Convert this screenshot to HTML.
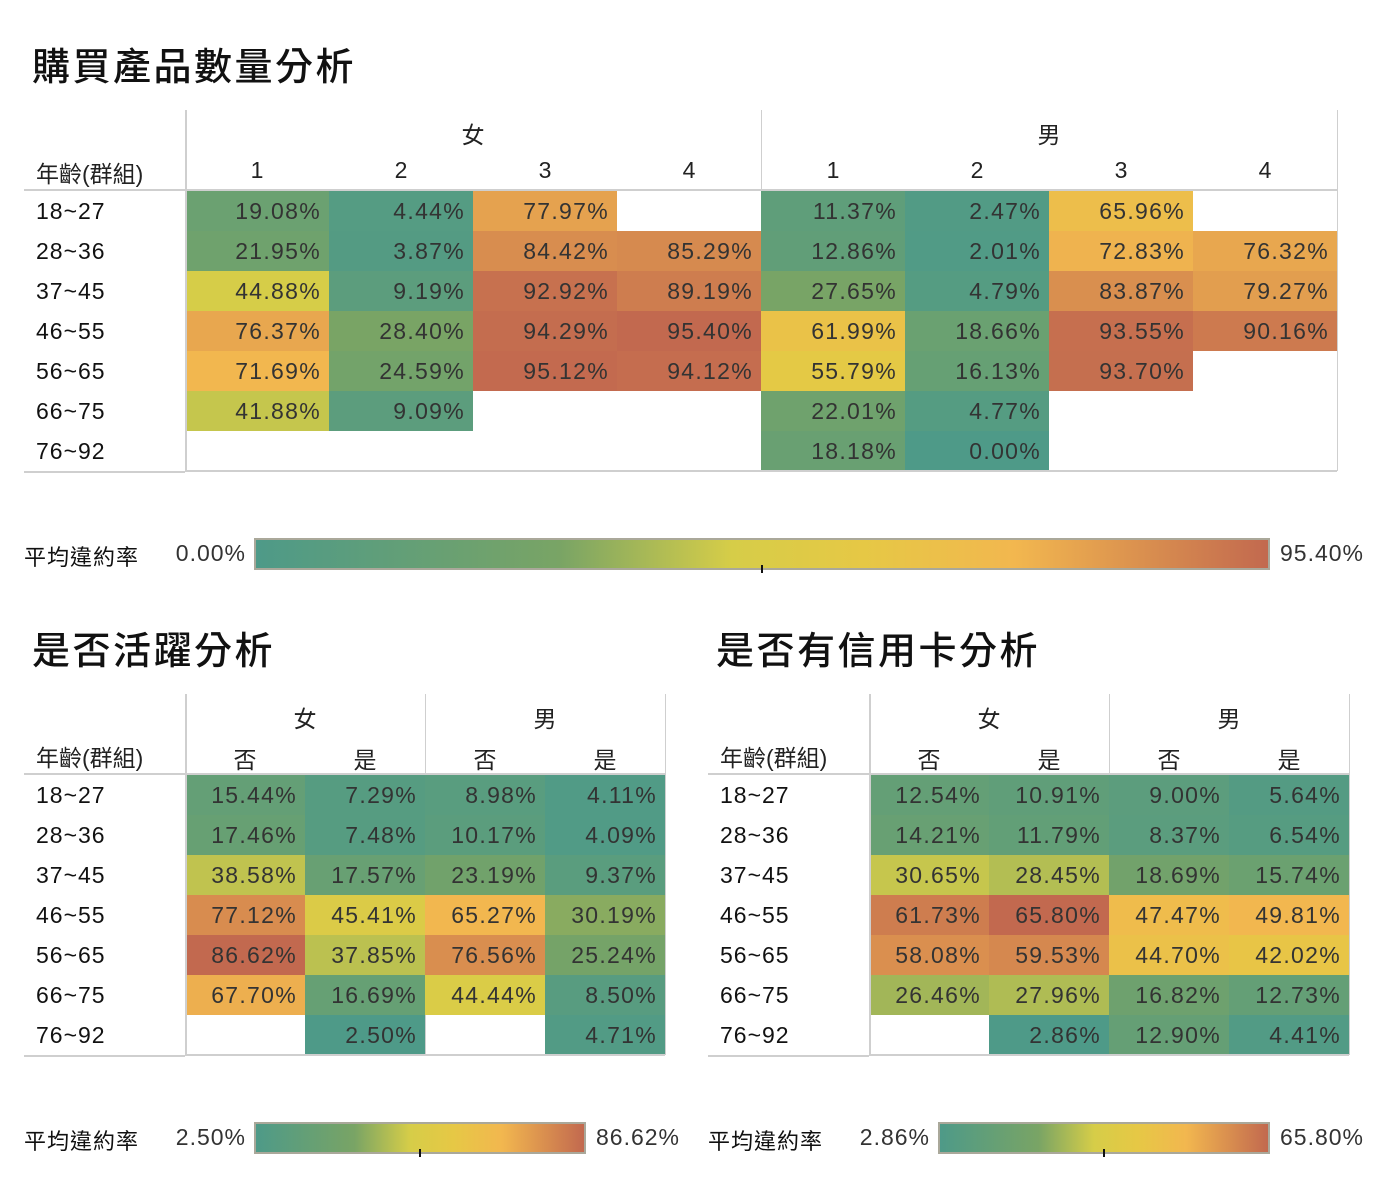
<!DOCTYPE html>
<html><head><meta charset="utf-8">
<style>
body{margin:0;background:#fff;font-family:"Liberation Sans","Noto Sans CJK TC",sans-serif;color:#222;}
#root{position:relative;width:1400px;height:1200px;overflow:hidden;}
.t{position:absolute;white-space:nowrap;}
.title{font-size:38px;font-weight:500;color:#111;letter-spacing:2.5px;}
.cell{position:absolute;font-size:23px;letter-spacing:1.3px;color:#333;text-align:right;box-sizing:border-box;padding-right:8px;line-height:40px;}
.hd{position:absolute;font-size:23px;color:#222;text-align:center;}
.rl{position:absolute;font-size:23px;letter-spacing:1px;color:#111;line-height:40px;}
.ln{position:absolute;background:#cfcfcf;}
</style></head><body>
<div id="root"></div>
<script>
// ---- data ----
const ages=["18~27","28~36","37~45","46~55","56~65","66~75","76~92"];
const qtyCats=["1","2","3","4"];
const qtyFemale=[[19.08,4.44,77.97,null],[21.95,3.87,84.42,85.29],[44.88,9.19,92.92,89.19],[76.37,28.40,94.29,95.40],[71.69,24.59,95.12,94.12],[41.88,9.09,null,null],[null,null,null,null]];
const qtyMale=[[11.37,2.47,65.96,null],[12.86,2.01,72.83,76.32],[27.65,4.79,83.87,79.27],[61.99,18.66,93.55,90.16],[55.79,16.13,93.70,null],[22.01,4.77,null,null],[18.18,0.00,null,null]];
const ynCats=["否","是"];
const activeFemale=[[15.44,7.29],[17.46,7.48],[38.58,17.57],[77.12,45.41],[86.62,37.85],[67.70,16.69],[null,2.50]];
const activeMale=[[8.98,4.11],[10.17,4.09],[23.19,9.37],[65.27,30.19],[76.56,25.24],[44.44,8.50],[null,4.71]];
const cardFemale=[[12.54,10.91],[14.21,11.79],[30.65,28.45],[61.73,65.80],[58.08,59.53],[26.46,27.96],[null,2.86]];
const cardMale=[[9.00,5.64],[8.37,6.54],[18.69,15.74],[47.47,49.81],[44.70,42.02],[16.82,12.73],[12.90,4.41]];

const stops=[[0,[78,154,136]],[0.3,[121,164,101]],[0.47,[214,205,72]],[0.6,[230,200,69]],[0.75,[242,183,79]],[1,[194,105,79]]];
function color(t){t=Math.max(0,Math.min(1,t));for(let i=1;i<stops.length;i++){if(t<=stops[i][0]){const a=stops[i-1],b=stops[i];const f=(t-a[0])/(b[0]-a[0]);const c=a[1].map((v,k)=>Math.round(v+(b[1][k]-v)*f));return `rgb(${c})`;}}return 'rgb('+stops[5][1]+')';}
const root=document.getElementById('root');
function add(cls,x,y,w,h,txt,name,extra){const d=document.createElement('div');d.className=cls;d.style.left=x+'px';d.style.top=y+'px';if(w!=null)d.style.width=w+'px';if(h!=null)d.style.height=h+'px';if(txt!=null)d.textContent=txt;


if(extra)Object.assign(d.style,extra);root.appendChild(d);return d;}
const grad='linear-gradient(to right,'+stops.map(s=>'rgb('+s[1]+') '+(s[0]*100)+'%').join(',')+')';

function table(x0,xh,colW,cats,groups,title,tx,ly,lx,bx,bw,prefix){
  add('t title',tx,36+ly,null,null,title,prefix+'-title');
  const all=[];groups.forEach(g=>g.data.forEach(r=>r.forEach(v=>{if(v!=null)all.push(v);})));
  const mn=Math.min(...all),mx=Math.max(...all);
  const top=110+ly,rowTop=191+ly,rh=40;
  ages.forEach((a,i)=>add('rl',x0+12,rowTop+i*rh,null,rh,a,prefix+'-row-label-'+a));
  add('hd',x0+12,155+ly,null,null,'年齡(群組)',prefix+'-row-header',{textAlign:'left'});
  const gw=colW*cats.length;
  groups.forEach((g,gi)=>{
    const gx=xh+gi*gw;
    add('hd',gx,116+ly,gw,null,g.name,prefix+'-group-'+g.name);
    cats.forEach((c,ci)=>add('hd',gx+ci*colW,157+ly,colW,null,c,prefix+'-col-'+g.name+'-'+c));
    g.data.forEach((r,ri)=>r.forEach((v,ci)=>{if(v==null)return;
      add('cell',gx+ci*colW,rowTop+ri*rh,colW,rh,v.toFixed(2)+'%',prefix+'-cell',{background:color((v-mn)/(mx-mn))});}));
    add('ln',gx+gw,top,1,rowTop+7*rh-top,null,prefix+'-divider');
  });
  add('ln',xh,top,2,rowTop+7*rh-top,null,prefix+'-divider');
  const xe=xh+gw*groups.length;
  add('ln',x0,rowTop-2,xe-x0,2,null,prefix+'-header-line');
  add('ln',x0,rowTop+7*rh,xh-x0,2,null,prefix+'-bottom-line');
  add('ln',xh,rowTop+7*rh-1,xe-xh,2,null,prefix+'-bottom-line');
  // legend
  const lgy=ly+538;
  add('t',lx,lgy+2,null,null,'平均違約率',prefix+'-legend-title',{fontSize:'22px',color:'#111',letterSpacing:'1px'});
  add('t',bx-160,lgy+2,152,null,mn.toFixed(2)+'%',prefix+'-legend-min',{fontSize:'23px',color:'#333',textAlign:'right',letterSpacing:'1px'});
  add('t',bx+bw+10,lgy+2,null,null,mx.toFixed(2)+'%',prefix+'-legend-max',{fontSize:'23px',color:'#333',letterSpacing:'1px'});
  add('t',bx,lgy,bw,32,null,prefix+'-legend-bar',{background:grad,border:'2px solid #aaa89a',boxSizing:'border-box'});
  add('t',bx+bw/2-1,lgy+27,2,8,null,prefix+'-legend-tick',{background:'#111'});
}
table(24,185,144,qtyCats,[{name:'女',data:qtyFemale},{name:'男',data:qtyMale}],'購買產品數量分析',32,0,24,254,1016,'qty');
table(24,185,120,ynCats,[{name:'女',data:activeFemale},{name:'男',data:activeMale}],'是否活躍分析',32,584,24,254,332,'active');
table(708,869,120,ynCats,[{name:'女',data:cardFemale},{name:'男',data:cardMale}],'是否有信用卡分析',716,584,708,938,332,'card');
</script>
</body></html>
